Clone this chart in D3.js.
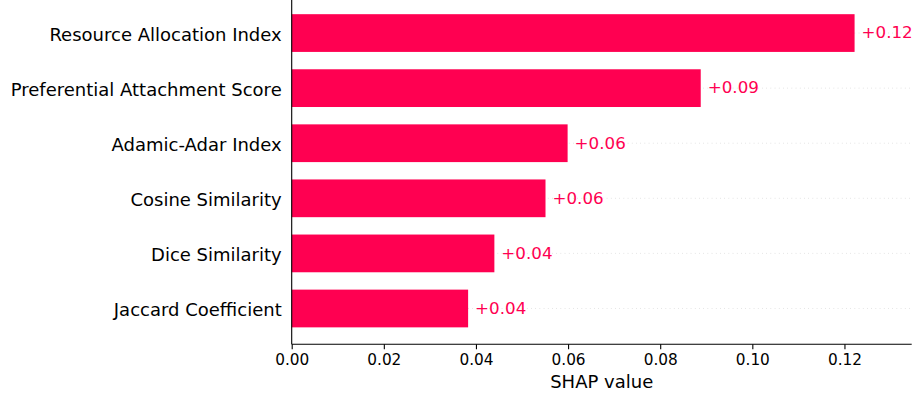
<!DOCTYPE html>
<html>
<head>
<meta charset="utf-8">
<script src="https://cdn.jsdelivr.net/npm/d3@7"></script>
<style>
  body { margin: 0; background: #fff; }
  text { font-family: "DejaVu Sans", sans-serif; }
</style>
</head>
<body>
<div id="chart"></div>
<script>
// feature names, top to bottom
var features = [
  "Resource Allocation Index",
  "Preferential Attachment Score",
  "Adamic-Adar Index",
  "Cosine Similarity",
  "Dice Similarity",
  "Jaccard Coefficient"
];
// mean |SHAP| per feature
var shapValues = [0.1222, 0.0888, 0.0599, 0.0551, 0.0440, 0.0383];
var valueLabels = ["+0.12", "+0.09", "+0.06", "+0.06", "+0.04", "+0.04"];
var xTicks = [0, 0.02, 0.04, 0.06, 0.08, 0.10, 0.12];

var W = 916, H = 394;
var margin = { top: 0, right: 4.3, bottom: 49.7, left: 291.7 };
var width = W - margin.left - margin.right,
    height = H - margin.top - margin.bottom;
var red = "#ff0051";

var svg = d3.select("#chart").append("svg")
  .attr("width", W)
  .attr("height", H)
  .append("g")
  .attr("transform", "translate(" + margin.left + "," + margin.top + ")");

var x = d3.scaleLinear().domain([0, 0.1346]).range([0, width]);
// row index -> pixel centre
var y = d3.scaleLinear().domain([-0.6, 5.65]).range([0, height]);
var barH = y(0.685) - y(0);

// dotted guide lines
svg.selectAll(".guide")
  .data(features)
  .enter().append("line")
  .attr("class", "guide")
  .attr("x1", 0)
  .attr("x2", width)
  .attr("y1", function (d, i) { return y(i); })
  .attr("y2", function (d, i) { return y(i); })
  .attr("stroke", "#cccccc")
  .attr("stroke-width", 0.7)
  .attr("stroke-dasharray", "0.7,3.5");

// bars
svg.selectAll(".bar")
  .data(shapValues)
  .enter().append("rect")
  .attr("class", "bar")
  .attr("x", x(0))
  .attr("y", function (d, i) { return y(i) - barH / 2; })
  .attr("width", function (d) { return x(d) - x(0); })
  .attr("height", barH)
  .attr("fill", red);

// value labels
svg.selectAll(".val")
  .data(shapValues)
  .enter().append("text")
  .attr("class", "val")
  .attr("x", function (d) { return x(d) + 7; })
  .attr("y", function (d, i) { return y(i); })
  .attr("dy", "0.32em")
  .attr("fill", red)
  .style("font-size", "16.7px")
  .text(function (d, i) { return valueLabels[i]; });

// feature names
svg.selectAll(".name")
  .data(features)
  .enter().append("text")
  .attr("class", "name")
  .attr("x", -10)
  .attr("y", function (d, i) { return y(i); })
  .attr("dy", "0.44em")
  .attr("text-anchor", "end")
  .attr("fill", "#000")
  .style("font-size", "18px")
  .text(function (d) { return d; });

// left spine
svg.append("line")
  .attr("x1", 0).attr("x2", 0)
  .attr("y1", 0).attr("y2", height)
  .attr("stroke", "#000")
  .attr("stroke-width", 1.1);

// x axis
var xAxis = svg.append("g")
  .attr("transform", "translate(0," + height + ")")
  .call(d3.axisBottom(x)
    .tickValues(xTicks)
    .tickFormat(d3.format(".2f"))
    .tickSize(4.9)
    .tickPadding(4.5));
xAxis.select(".domain").attr("stroke", "#000").attr("stroke-width", 1.1)
  .attr("d", "M0,0H" + width);
xAxis.selectAll(".tick line").attr("stroke", "#000").attr("stroke-width", 1.1);
xAxis.selectAll(".tick text")
  .attr("fill", "#000")
  .style("font-family", "DejaVu Sans")
  .style("font-size", "15.3px");

svg.append("text")
  .attr("x", width / 2)
  .attr("y", height + 44)
  .attr("text-anchor", "middle")
  .attr("fill", "#000")
  .style("font-size", "18px")
  .text("SHAP value");
</script>
</body>
</html>
